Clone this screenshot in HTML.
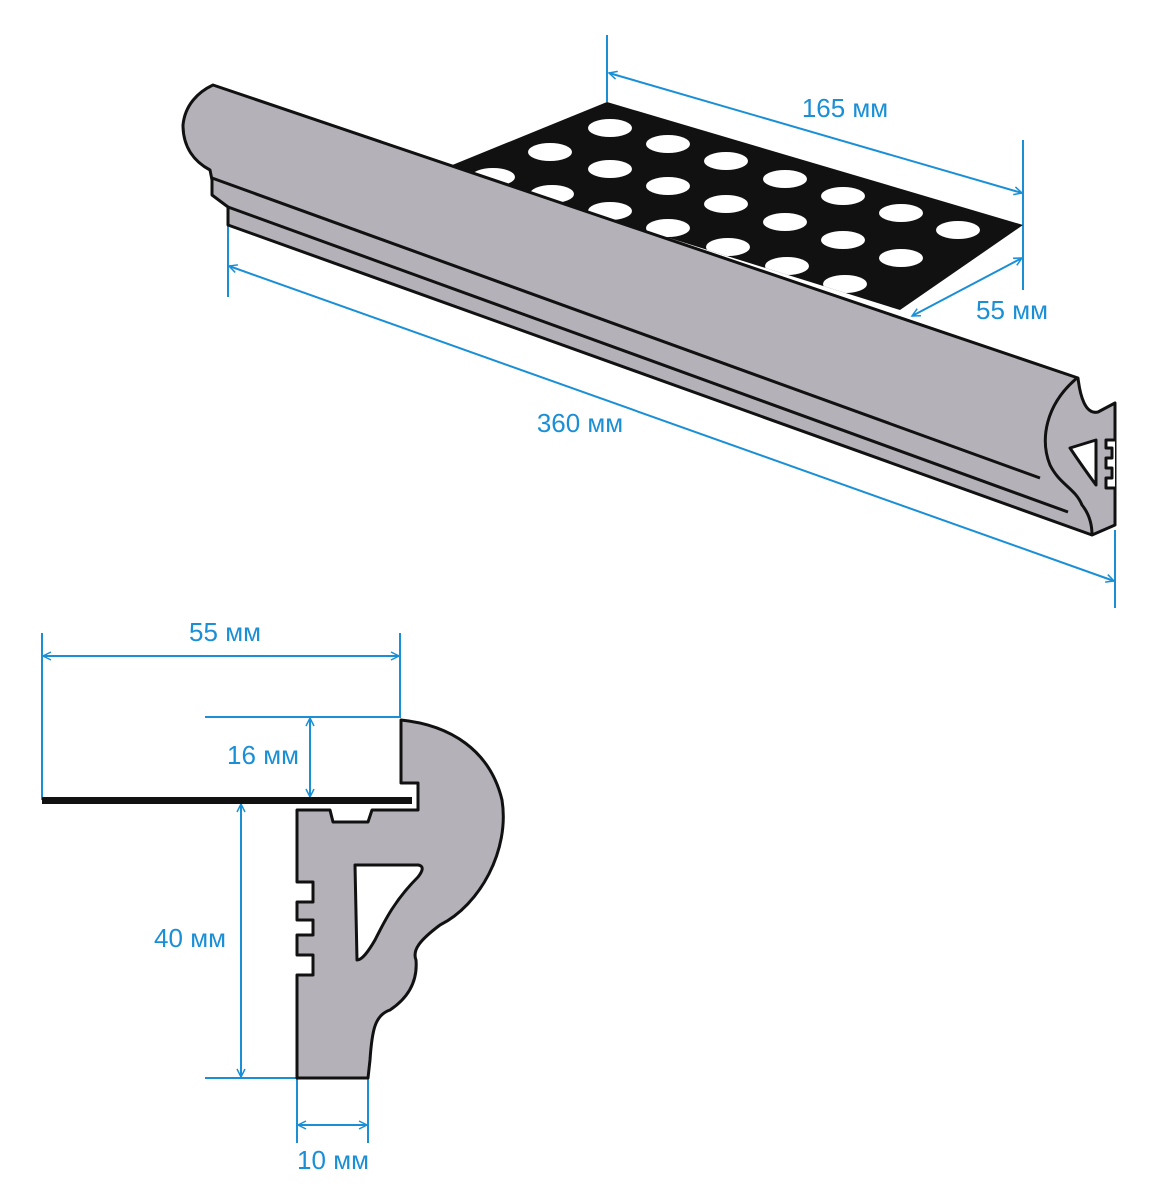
<!DOCTYPE html>
<html><head><meta charset="utf-8"><style>body{margin:0;background:#fff}svg{display:block}text{font-family:"Liberation Sans",sans-serif;font-size:26px;fill:#1a8fd6}</style></head><body>
<svg width="1175" height="1200" viewBox="0 0 1175 1200" xmlns="http://www.w3.org/2000/svg">
<defs>
<marker id="a" markerWidth="12" markerHeight="12" refX="10" refY="5" orient="auto-start-reverse" markerUnits="userSpaceOnUse"><path d="M2,1 L10,5 L2,9" fill="none" stroke="#1a8fd6" stroke-width="1.5"/></marker>
<clipPath id="pc"><polygon points="607,102 1023,225 900,310 445,168"/></clipPath>
</defs>
<g stroke="#1a8fd6" stroke-width="2" fill="none">
<line x1="607" y1="35" x2="607" y2="102"/><line x1="1023" y1="140" x2="1023" y2="290"/>
<line x1="609" y1="73" x2="1022" y2="193" marker-start="url(#a)" marker-end="url(#a)"/>
<line x1="912" y1="316" x2="1022" y2="258" marker-start="url(#a)" marker-end="url(#a)"/>
<line x1="228" y1="222" x2="228" y2="297"/><line x1="1115" y1="530" x2="1115" y2="608"/>
<line x1="229" y1="266" x2="1114" y2="581" marker-start="url(#a)" marker-end="url(#a)"/>
<line x1="42" y1="633" x2="42" y2="800"/><line x1="400" y1="633" x2="400" y2="718"/>
<line x1="43" y1="656" x2="399" y2="656" marker-start="url(#a)" marker-end="url(#a)"/>
<line x1="205" y1="717" x2="400" y2="717"/>
<line x1="310" y1="718" x2="310" y2="797" marker-start="url(#a)" marker-end="url(#a)"/>
<line x1="205" y1="1078" x2="297" y2="1078"/>
<line x1="241" y1="804" x2="241" y2="1077" marker-start="url(#a)" marker-end="url(#a)"/>
<line x1="297" y1="1060" x2="297" y2="1143"/><line x1="368" y1="1060" x2="368" y2="1143"/>
<line x1="298" y1="1125" x2="367" y2="1125" marker-start="url(#a)" marker-end="url(#a)"/>
</g>
<polygon points="607,102 1023,225 900,310 445,168" fill="#111"/>
<g clip-path="url(#pc)" fill="#fff">
<ellipse cx="610" cy="128" rx="22" ry="9"/><ellipse cx="668" cy="144" rx="22" ry="9"/><ellipse cx="726" cy="161" rx="22" ry="9"/><ellipse cx="785" cy="179" rx="22" ry="9"/><ellipse cx="843" cy="196" rx="22" ry="9"/><ellipse cx="901" cy="213" rx="22" ry="9"/><ellipse cx="958" cy="230" rx="22" ry="9"/>
<ellipse cx="550" cy="152" rx="22" ry="9"/><ellipse cx="610" cy="169" rx="22" ry="9"/><ellipse cx="668" cy="186" rx="22" ry="9"/><ellipse cx="726" cy="204" rx="22" ry="9"/><ellipse cx="785" cy="222" rx="22" ry="9"/><ellipse cx="843" cy="240" rx="22" ry="9"/><ellipse cx="901" cy="258" rx="22" ry="9"/>
<ellipse cx="493" cy="177" rx="22" ry="9"/><ellipse cx="552" cy="194" rx="22" ry="9"/><ellipse cx="610" cy="211" rx="22" ry="9"/><ellipse cx="668" cy="228" rx="22" ry="9"/><ellipse cx="728" cy="247" rx="22" ry="9"/><ellipse cx="787" cy="266" rx="22" ry="9"/><ellipse cx="845" cy="284" rx="22" ry="9"/>
</g>
<g stroke="#111" stroke-width="3" fill="#b5b1b8" stroke-linejoin="round">
<path d="M213,85 L1078,378 C1080,395 1085,415 1098,412 L1115,403 L1115,525 L1092,535 L228,225 L228,207 L212,195 L212,180 L210,170 C195,162 183,148 183,125 C185,105 198,92 213,85 Z"/>
<path d="M212,178 L1040,478" fill="none"/>
<path d="M228,207 L1068,512" fill="none"/>
<path d="M1077,378 C1045,405 1040,440 1050,465 C1060,485 1075,488 1082,505 C1090,515 1092,525 1092,535" fill="none"/>
<path d="M1115,440 L1106,440 L1106,448 L1112,448 L1112,458 L1106,458 L1106,468 L1112,468 L1112,478 L1106,478 L1106,488 L1115,488" fill="#fff"/>
<path d="M1096,440 L1096,485 C1085,470 1078,460 1070,448 Z" fill="#fff"/>
</g>
<rect x="42" y="797" width="370" height="7" fill="#111"/>
<path d="M401,720 C450,725 490,750 502,800 C510,850 480,905 440,925 C420,940 412,950 416,960 C418,985 405,1000 390,1010 C375,1015 372,1030 370,1060 L368,1078 L297,1078 L297,975 L313,975 L313,955 L297,955 L297,935 L313,935 L313,920 L297,920 L297,902 L313,902 L313,882 L297,882 L297,810 L330,810 L333,822 L368,822 L372,810 L418,810 L418,783 L401,783 Z" fill="#b5b1b8" stroke="#111" stroke-width="3" stroke-linejoin="round"/>
<path d="M355,865 L418,865 C425,866 422,872 418,877 C395,900 385,920 375,940 C368,952 362,960 357,960 Z" fill="#fff" stroke="#111" stroke-width="3" stroke-linejoin="round"/>
<text x="845" y="117" text-anchor="middle">165 мм</text>
<text x="1012" y="319" text-anchor="middle">55 мм</text>
<text x="580" y="432" text-anchor="middle">360 мм</text>
<text x="225" y="641" text-anchor="middle">55 мм</text>
<text x="263" y="764" text-anchor="middle">16 мм</text>
<text x="190" y="947" text-anchor="middle">40 мм</text>
<text x="333" y="1169" text-anchor="middle">10 мм</text>
</svg>
</body></html>
